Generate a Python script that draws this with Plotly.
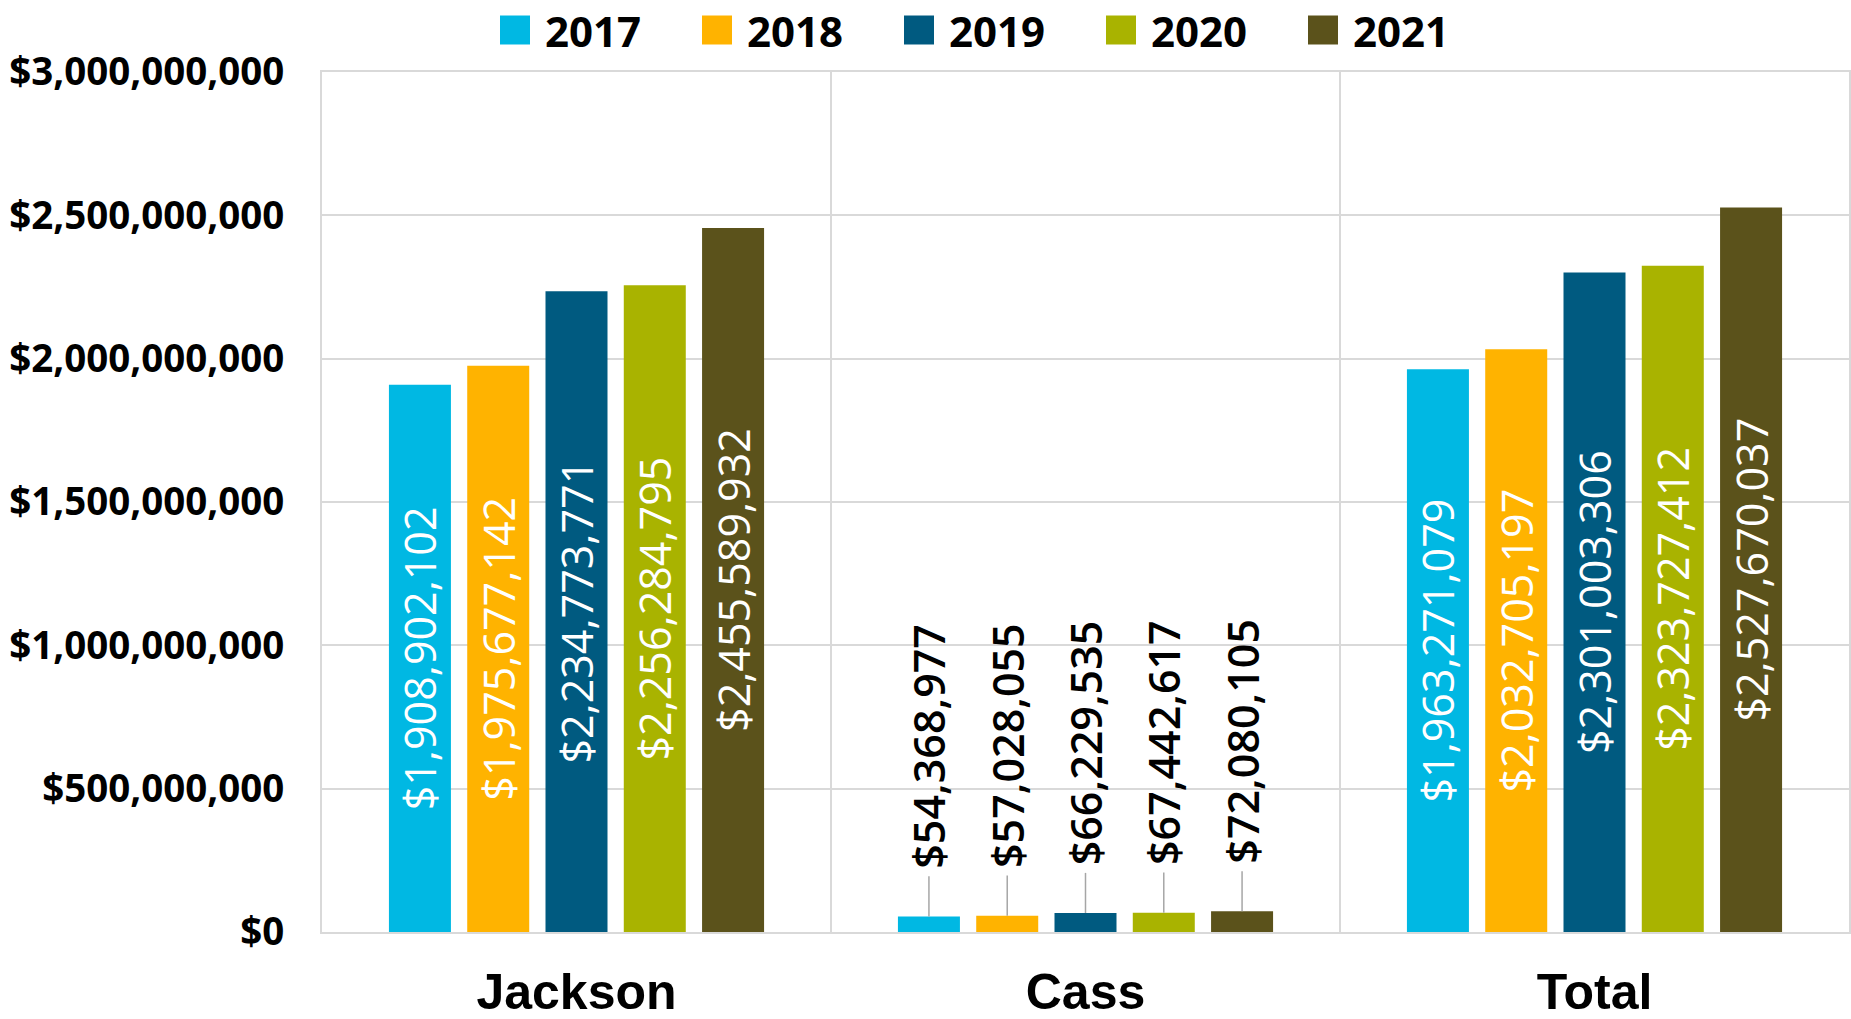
import plotly.graph_objects as go

# ---------------- data ----------------
categories = ["Jackson", "Cass", "Total"]
years = ["2017", "2018", "2019", "2020", "2021"]
values_2017 = [1908902102, 54368977, 1963271079]
values_2018 = [1975677142, 57028055, 2032705197]
values_2019 = [2234773771, 66229535, 2301003306]
values_2020 = [2256284795, 67442617, 2323727412]
values_2021 = [2455589932, 72080105, 2527670037]
series = [values_2017, values_2018, values_2019, values_2020, values_2021]
colors = ["#00B8E3", "#FFB300", "#005A80", "#A9B300", "#5B521B"]
label_position = ["inside", "outside", "inside"]   # Cass labels sit above the bars
leader_flag = [0, 1, 0]                              # leader lines only for Cass

# ---------------- geometry / style ----------------
W, H = 1851, 1019
M_L, M_R, M_T, M_B = 322, 2, 72, 87
PLOT_W = W - M_L - M_R
PLOT_H = H - M_T - M_B
Y_MAX = 3_000_000_000
LEADER = 1.4e8
GRID = "#D9D9D9"
LABEL_FONT = "Open Sans"
NBSP = "\u00a0"

fig = go.Figure()
for year, vals, col in zip(years, series, colors):
    texts = []
    for v, pos in zip(vals, label_position):
        t = f"${v:,}"
        if pos == "outside":
            t = NBSP * 4 + t
        texts.append(t)
    fig.add_trace(go.Bar(
        name=year, x=categories, y=vals, marker=dict(color=col, line=dict(width=0)),
        text=texts, textposition=label_position, textangle=-90,
        insidetextanchor="middle", constraintext="none",
        insidetextfont=dict(family=LABEL_FONT, size=43, color="white", weight=500),
        outsidetextfont=dict(family=LABEL_FONT, size=43, color="black", weight=600),
        error_y=dict(type="data", symmetric=False,
                     array=[f * LEADER for f in leader_flag],
                     arrayminus=[0, 0, 0], width=0, thickness=1.5, color="#A6A6A6"),
        cliponaxis=False, showlegend=False, hoverinfo="x+y",
    ))

# ---------------- custom legend (large square swatches) ----------------
def px_to_paper_x(px):
    return (px - M_L) / PLOT_W

def px_to_paper_y(py):
    return (H - M_B - py) / PLOT_H

LEG_X0, LEG_STEP, SW, SH, LEG_YC = 500, 202, 30, 29, 30
shapes, annotations = [], []
for i, (year, col) in enumerate(zip(years, colors)):
    x0 = LEG_X0 + i * LEG_STEP
    shapes.append(dict(type="rect", xref="paper", yref="paper",
                       xsizemode="pixel", ysizemode="pixel",
                       xanchor=px_to_paper_x(x0), yanchor=px_to_paper_y(LEG_YC),
                       x0=0, x1=SW, y0=-SH / 2, y1=SH / 2,
                       fillcolor=col, line=dict(width=0)))
    annotations.append(dict(text=year, xref="paper", yref="paper",
                            x=px_to_paper_x(x0 + SW + 13), y=px_to_paper_y(LEG_YC),
                            xanchor="left", yanchor="middle", showarrow=False,
                            font=dict(family="Open Sans", size=42, color="black", weight="bold")))

fig.update_layout(
    width=W, height=H,
    margin=dict(l=M_L, r=M_R, t=M_T, b=M_B, pad=0, autoexpand=False),
    paper_bgcolor="white", plot_bgcolor="white",
    barmode="group", bargap=0.231, bargroupgap=0.208,
    uniformtext=dict(mode="show", minsize=43),
    showlegend=False,
    shapes=shapes, annotations=annotations,
    xaxis=dict(type="category", tickson="boundaries", showgrid=True, gridcolor=GRID,
               gridwidth=2, ticks="", showline=True, linecolor=GRID, linewidth=2,
               mirror=True, ticklabelstandoff=15, automargin=False,
               tickfont=dict(family="Liberation Sans", size=50, color="black", weight="bold")),
    yaxis=dict(range=[0, Y_MAX], dtick=500_000_000, tickprefix="$", tickformat=",.0f",
               showgrid=True, gridcolor=GRID, gridwidth=2, zeroline=False,
               showline=True, linecolor=GRID, linewidth=2, mirror=True, ticks="",
               ticklabelstandoff=28, automargin=False,
               tickfont=dict(family="Open Sans", size=38.5, color="black", weight="bold")),
)

fig.write_html("out.html")
